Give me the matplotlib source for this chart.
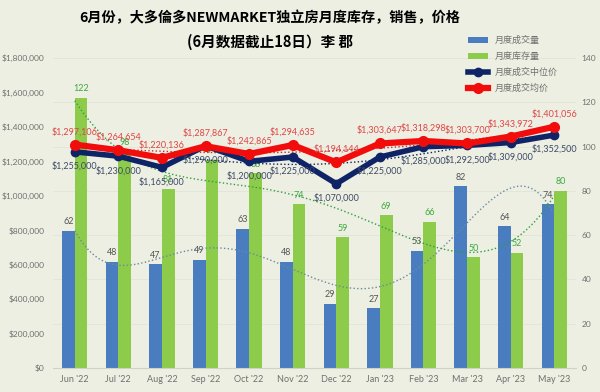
import numpy as np
import matplotlib
matplotlib.use("Agg")
import matplotlib.pyplot as plt
from matplotlib.ticker import FuncFormatter

plt.rcParams['font.family'] = ['Lato', 'Noto Sans CJK SC', 'DejaVu Sans']

# data
months = ["Jun '22", "Jul '22", "Aug '22", "Sep '22", "Oct '22", "Nov '22",
          "Dec '22", "Jan '23", "Feb '23", "Mar '23", "Apr '23", "May '23"]
sales = [62, 48, 47, 49, 63, 48, 29, 27, 53, 82, 64, 74]
inventory = [122, 98, 81, 94, 88, 74, 59, 69, 66, 50, 52, 80]
median_price = [1255000, 1230000, 1165000, 1290000, 1200000, 1225000,
                1070000, 1225000, 1285000, 1292500, 1309000, 1352500]
avg_price = [1297106, 1264654, 1220136, 1287867, 1242865, 1294635,
             1194144, 1303647, 1318298, 1303700, 1343972, 1401056]

bg = '#EDEFE3'
c_blue = '#4A7CC0'
c_green = '#8DCB4A'
c_navy = '#0F2466'
c_red = '#F20D0D'

fig = plt.figure(figsize=(6, 3.92), dpi=100)
fig.patch.set_facecolor(bg)

ax = fig.add_axes([53/600, 24/392, 523/600, 310/392])
ax.set_facecolor(bg)
ax2 = ax.twinx()

x = np.arange(len(months))
w = 0.29

# bars on count axis (drawn first, behind)
ax.bar(x - w/2, sales, width=w, color=c_blue, label='月度成交量', zorder=2)
ax.bar(x + w/2, inventory, width=w, color=c_green, label='月度库存量', zorder=2)
for i in range(len(x)):
    ax.text(x[i] - w/2, sales[i] + 2, str(sales[i]), ha='center', va='bottom',
            fontsize=6.5, color='#555555', zorder=3)
    ax.text(x[i] + w/2, inventory[i] + 2, str(inventory[i]), ha='center', va='bottom',
            fontsize=6.5, color='#3DAA3D', zorder=3)

# polynomial trendlines (excel style)
xs = np.linspace(0, 11, 200)
ps = np.polyfit(x, sales, 5)
pi = np.polyfit(x, inventory, 4)
ax.plot(xs, np.polyval(ps, xs), ls=':', color='#6A8AA0', lw=1, zorder=3)
ax.plot(xs, np.polyval(pi, xs), ls=':', color='#2E9E3E', lw=1, zorder=3)

ax.set_ylim(0, 140)
ax.set_yticks(range(0, 141, 20))
ax.set_xlim(-0.5, 11.5)
ax.set_xticks(x)
ax.set_xticklabels(months)
ax.yaxis.tick_right()
ax.yaxis.set_label_position('right')

# price lines on the other axis
ax2.yaxis.tick_left()
pm = np.polyfit(x, median_price, 4)
pa = np.polyfit(x, avg_price, 3)
ax2.plot(xs, np.polyval(pm, xs), ls=':', color=c_navy, lw=1, zorder=3)
ax2.plot(xs, np.polyval(pa, xs), ls=':', color='#C03030', lw=1, zorder=3)
ax2.plot(x, median_price, color=c_navy, lw=4, marker='o', ms=6, label='月度成交中位价', zorder=4)
ax2.plot(x, avg_price, color=c_red, lw=4.5, marker='o', ms=7, label='月度成交均价', zorder=5)
for i in range(len(x)):
    ax2.annotate('${:,}'.format(median_price[i]), (x[i], median_price[i]),
                 xytext=(0, -7), textcoords='offset points', ha='center', va='top',
                 fontsize=6.5, color='#3D4A66', zorder=6)
    ax2.annotate('${:,}'.format(avg_price[i]), (x[i], avg_price[i]),
                 xytext=(0, 6), textcoords='offset points', ha='center', va='bottom',
                 fontsize=6.5, color='#E04545', zorder=6)
ax2.set_ylim(0, 1800000)
ax2.set_yticks(range(0, 1800001, 200000))
ax2.yaxis.set_major_formatter(FuncFormatter(lambda v, p: '${:,.0f}'.format(v)))

for a in (ax, ax2):
    for s in a.spines.values():
        s.set_visible(False)
    a.tick_params(length=0, labelsize=6, labelcolor='#707070')
ax.spines['bottom'].set_visible(True)
ax.spines['bottom'].set_color('#D0D2C8')
ax.tick_params(axis='y', pad=4)
ax2.tick_params(axis='y', pad=6)
ax.tick_params(axis='x', pad=5, labelsize=6.5)
for yv in range(20, 141, 20):
    ax.axhline(yv, color='#E2E4D8', lw=0.6, zorder=0)

# legend
h1, l1 = ax.get_legend_handles_labels()
h2, l2 = ax2.get_legend_handles_labels()
leg = fig.legend(h1 + h2, l1 + l2, loc='upper left', bbox_to_anchor=(460/600, 1 - 28/392),
                 frameon=False, fontsize=6.5, labelspacing=0.75, handlelength=2.2,
                 handleheight=0.6)
for t in leg.get_texts():
    t.set_color('#707070')

# title
fig.text(0.45, 1 - 18/392, '6月份，大多倫多NEWMARKET独立房月度库存，销售，价格',
         ha='center', va='center', fontsize=10.2, fontweight='bold',
         family=['Noto Sans CJK SC', 'DejaVu Sans'])
fig.text(0.45, 1 - 42/392, '(6月数据截止18日）李 郡',
         ha='center', va='center', fontsize=10.5, fontweight='bold',
         family=['Noto Sans CJK SC', 'DejaVu Sans'])

fig.savefig('out.png', dpi=100, facecolor=bg)
